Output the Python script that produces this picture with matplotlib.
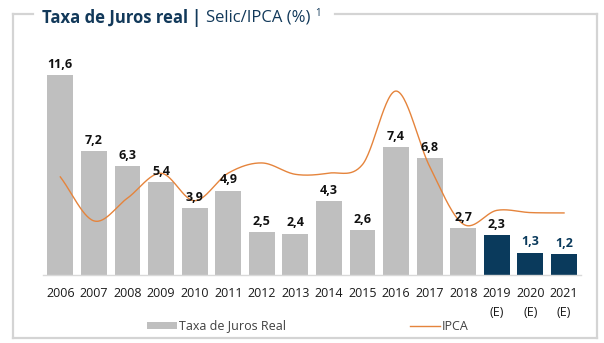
import numpy as np
import matplotlib
matplotlib.use("Agg")
import matplotlib.pyplot as plt
from matplotlib.lines import Line2D
from matplotlib.patches import Rectangle

plt.rcParams['font.family'] = ['Open Sans', 'DejaVu Sans']

# dados
anos = ["2006", "2007", "2008", "2009", "2010", "2011", "2012", "2013",
        "2014", "2015", "2016", "2017", "2018", "2019\n(E)", "2020\n(E)", "2021\n(E)"]
juros_real = [11.6, 7.2, 6.3, 5.4, 3.9, 4.9, 2.5, 2.4, 4.3, 2.6, 7.4, 6.8, 2.7, 2.3, 1.3, 1.2]
ipca = [5.69, 3.14, 4.46, 5.90, 4.31, 5.91, 6.50, 5.84, 5.91, 6.41, 10.67, 6.29, 2.95, 3.75, 3.62, 3.60]
estimado = [False] * 13 + [True] * 3

CINZA = "#BFBFBF"
AZUL = "#0A3A5C"
LARANJA = "#E5843C"
MOLDURA = "#D4D4D4"

W, H = 604, 343


def px(x, y):
    # pixel (topo-esquerda) -> fração da figura
    return x / W, 1 - y / H


def catmull_rom(xs, ys, n=30):
    # suavização estilo Excel
    xs = np.asarray(xs, float)
    ys = np.asarray(ys, float)
    P = np.column_stack([xs, ys])
    P = np.vstack([2 * P[0] - P[1], P, 2 * P[-1] - P[-2]])
    out = []
    for i in range(1, len(P) - 2):
        p0, p1, p2, p3 = P[i - 1], P[i], P[i + 1], P[i + 2]
        t = np.linspace(0, 1, n, endpoint=False)[:, None]
        seg = 0.5 * ((2 * p1) + (-p0 + p2) * t + (2 * p0 - 5 * p1 + 4 * p2 - p3) * t ** 2
                     + (-p0 + 3 * p1 - 3 * p2 + p3) * t ** 3)
        out.append(seg)
    out.append(P[-2][None, :])
    out = np.vstack(out)
    return out[:, 0], out[:, 1]


fig = plt.figure(figsize=(W / 100, H / 100), dpi=100)

escala = 17.24  # px por unidade
base = 275
topo = 30
l, b = px(43.5, base)
ax = fig.add_axes([l, b, 537.3 / W, (base - topo) / H])
ax.set_xlim(-0.5, 15.5)
ax.set_ylim(0, (base - topo) / escala)

x = np.arange(len(anos))
cores = [AZUL if e else CINZA for e in estimado]
bars = ax.bar(x, juros_real, width=0.77, color=cores, zorder=2)

for i, (bar, v) in enumerate(zip(bars, juros_real)):
    cor = AZUL if i >= 14 else "#111111"
    ax.annotate(f"{v:.1f}".replace(".", ","), (bar.get_x() + bar.get_width() / 2, v),
                xytext=(0, 3), textcoords="offset points", ha="center", va="bottom",
                fontsize=9, fontweight="bold", color=cor, zorder=4)

lx, ly = catmull_rom(x, ipca)
ax.plot(lx, ly, color=LARANJA, lw=1.0, zorder=3)

for s in ["top", "right", "left"]:
    ax.spines[s].set_visible(False)
ax.spines["bottom"].set_color("#D9D9D9")
ax.spines["bottom"].set_linewidth(1)
ax.set_yticks([])
ax.set_xticks(x)
ax.set_xticklabels(anos, fontsize=9, color="#1A1A1A", linespacing=1.65)
ax.tick_params(axis="x", length=0, pad=8.5)

# moldura
kw = dict(color=MOLDURA, lw=1.6, transform=fig.transFigure)
for (x0, y0), (x1, y1) in [((13, 14), (33, 14)), ((335, 14), (597, 14)),
                           ((597, 14), (597, 338)), ((597, 338), (13, 338)),
                           ((13, 338), (13, 14))]:
    a, bb = px(x0, y0)
    c, d = px(x1, y1)
    fig.add_artist(Line2D([a, c], [bb, d], **kw))

# título
renderer = fig.canvas.get_renderer()
partes = [("Taxa de Juros real ", "bold", 12, "#12395A", 0),
          ("| ", "bold", 12, "#12395A", 0),
          ("Selic/IPCA (%) ", "normal", 12, "#12395A", 0),
          ("1", "normal", 7, "#12395A", 5)]
cx = 42
for txt, peso, tam, cor, sobe in partes:
    fx, fy = px(cx, 18 - sobe)
    t = fig.text(fx, fy, txt, fontsize=tam, fontweight=peso, color=cor, va="center", ha="left")
    cx += t.get_window_extent(renderer).width

# legenda
rx, ry = px(147, 329)
fig.add_artist(Rectangle((rx, ry), 30 / W, 7 / H, transform=fig.transFigure,
                         color=CINZA, lw=0))
fig.text(*px(179, 326), "Taxa de Juros Real", fontsize=9, color="#404040", va="center")
a, bb = px(410, 326)
c, _ = px(440, 326)
fig.add_artist(Line2D([a, c], [bb, bb], color=LARANJA, lw=1.0, transform=fig.transFigure))
fig.text(*px(442, 326), "IPCA", fontsize=9, color="#404040", va="center")

fig.savefig("out.png", dpi=100)
